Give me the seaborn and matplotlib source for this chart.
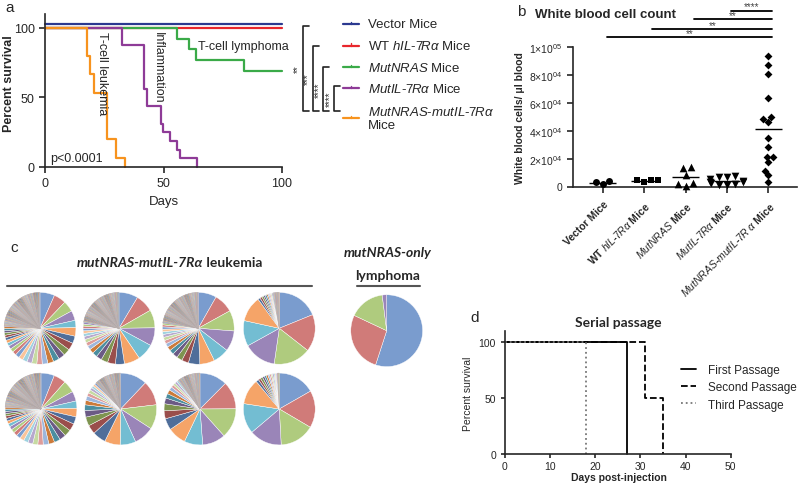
import numpy as np
import matplotlib
matplotlib.use('Agg')
import matplotlib.pyplot as plt
import matplotlib.transforms as mtransforms
import seaborn as sns

# --- panel a: Kaplan-Meier survival (days, percent) ---
vector_days = [0, 100]
vector_surv = [100, 100]
wt_days = [0, 100]
wt_surv = [100, 100]
nras_days = [0, 55.6, 60.8, 63.7, 84.1, 100]
nras_surv = [100, 92.3, 84.6, 76.9, 69.2, 69.2]
il7r_days = [0, 32.6, 41.8, 42.9, 49, 49.9, 52.7, 55.6, 57, 64]
il7r_surv = [100, 87.5, 56.25, 43.75, 31.25, 25, 18.75, 12.5, 6.25, 0]
double_days = [0, 17.9, 19, 20.7, 26, 30, 33.8]
double_surv = [100, 80, 66.7, 53.3, 20, 6.7, 0]
a_labels = ['Vector Mice',
            r'WT $\mathit{hIL}$-$\mathit{7R\alpha}$ Mice',
            r'$\mathit{MutNRAS}$ Mice',
            r'$\mathit{MutIL}$-$\mathit{7R\alpha}$ Mice',
            '$\\mathit{MutNRAS}$-$\\mathit{mutIL}$-$\\mathit{7R\\alpha}$\nMice']
a_colors = ['#2B3990', '#E8262C', '#3AAA48', '#8E3B97', '#F7931E']
a_stars = ['**', '***', '****', '****']

# --- panel b: white blood cell count per mouse ---
b_cats = ['Vector', 'WT hIL-7Ra', 'MutNRAS', 'MutIL-7Ra', 'MutNRAS-mutIL-7Ra']
b_ticklabels = ['Vector Mice',
                r'WT $\mathit{hIL}$-$\mathit{7R\alpha}$ Mice',
                r'$\mathit{MutNRAS}$ Mice',
                r'$\mathit{MutIL}$-$\mathit{7R\alpha}$ Mice',
                r'$\mathit{MutNRAS}$-$\mathit{mutIL}$-$\mathit{7R\ \alpha}$ Mice']
wbc_vector = [3600, 1600, 2900]
wbc_wt = [4700, 3100, 4500, 4900]
wbc_nras = [14300, 13600, 8300, 2100, 2300, 500]
wbc_il7r = [7600, 7000, 6500, 5200, 4200, 3500, 3000, 2400, 1800, 1200, 800]
wbc_double = [93700, 87200, 81100, 63800, 48300, 46300, 49900, 34600,
              28400, 21500, 21500, 17600, 11200, 8100, 3300]
b_stars = ['**', '**', '**', '****']   # each group vs MutNRAS-mutIL-7Ra

# --- panel c: clone fractions (%) per mouse ---
pie1 = [6, 5, 4.5, 4, 3, 3.5, 3, 3, 2.8, 2.6, 2.5, 2.4, 2.3, 2.2, 2.1, 2, 1.9, 1.8,
        1.7, 1.6, 1.5, 1.4, 1.3, 1.2, 1.1, 1, 1, 0.9, 0.9, 0.8] + [0.4] * 55
pie2 = [8.5, 8, 8, 8, 7.5, 7, 4, 3.5, 3, 2.5, 2.2, 2, 1.8, 1.6, 1.5, 1.4, 1.3, 1.2,
        1.1, 1, 0.9, 0.8] + [0.4] * 55
pie3 = [8, 8.5, 9, 9, 7, 6.5, 5, 3, 2.5, 2.2, 2, 1.8, 1.6, 1.5, 1.4, 1.3, 1.2, 1.1,
        1, 0.9, 0.8] + [0.4] * 55
pie4 = [18, 16, 16, 14, 11, 11, 1, 0.9, 0.8, 0.7, 0.7, 0.6, 0.6, 0.5, 0.5, 0.5,
        0.4, 0.4, 0.4, 0.4, 0.3, 0.3, 0.3, 0.3]
pie5 = [5.5, 5, 5, 4, 3, 3.5, 3, 3, 2.8, 2.6, 2.5, 2.4, 2.3, 2.2, 2.1, 2, 1.9, 1.8,
        1.7, 1.6, 1.5, 1.4, 1.3, 1.2, 1.1, 1, 1, 0.9, 0.9, 0.8] + [0.4] * 55
pie6 = [12, 11, 11, 9, 7, 7, 6, 4, 4, 3, 2.5, 2, 2, 1.5, 1.5, 1.2, 1, 1, 0.8] + [0.4] * 30
pie7 = [12, 12, 13, 10, 8, 8, 5, 3.5, 3, 2.5, 2, 1.8, 1.5, 1.2, 1, 1, 0.8] + [0.4] * 25
pie8 = [16, 16, 15, 14, 13, 11, 1.2, 1, 1, 0.9, 0.8, 0.8, 0.7, 0.7, 0.6, 0.6, 0.5,
        0.5, 0.5, 0.4, 0.4]
pie_lymphoma = [55, 27, 16, 2]
pie_colors = ['#7A9CCE', '#D07B79', '#AFCB7E', '#9A85B8', '#73BDD2', '#F5A468',
              '#4F6E9A', '#9A4E4C', '#7E9450', '#6B5A85', '#4B8EA0', '#CC7A3A',
              '#9DB6DC', '#DE9C9A', '#C6DAA2', '#B7A8CD', '#9FD2E0', '#F9C49A']

# --- panel d: serial passage survival ---
d_labels = ['First Passage', 'Second Passage', 'Third Passage']
first_days = [0, 27]
first_surv = [100, 0]
second_days = [0, 31, 35]
second_surv = [100, 50, 0]
third_days = [0, 18]
third_surv = [100, 0]

sns.set_style('ticks')
plt.rcParams['font.family'] = ['Liberation Sans', 'DejaVu Sans']
plt.rcParams['mathtext.fontset'] = 'custom'
plt.rcParams['mathtext.rm'] = 'Liberation Sans'
plt.rcParams['mathtext.it'] = 'Liberation Sans:italic'
plt.rcParams['mathtext.bf'] = 'Liberation Sans:bold'
plt.rcParams['axes.linewidth'] = 1.2

W, H = 800, 485
fig = plt.figure(figsize=(8, 4.85), dpi=100)


def px_axes(x0, y0, x1, y1):
    return fig.add_axes([x0 / W, 1 - y1 / H, (x1 - x0) / W, (y1 - y0) / H])


# ---------------- panel a ----------------
axa = px_axes(45, 15, 282, 168)
series = [(vector_days, vector_surv), (wt_days, wt_surv), (nras_days, nras_surv),
          (il7r_days, il7r_surv), (double_days, double_surv)]
up = mtransforms.offset_copy(axa.transData, fig=fig, x=0, y=3.5, units='dots')
for i, (d, s) in enumerate(series):
    kw = {'transform': up} if i == 0 else {}
    sns.lineplot(x=d, y=s, color=a_colors[i], drawstyle='steps-post', lw=1.6,
                 clip_on=False, ax=axa, **kw)
axa.set_xlim(0, 100)
axa.set_ylim(0, 110)
axa.set_xticks([0, 50, 100])
axa.set_yticks([0, 50, 100])
axa.tick_params(direction='out', length=4, width=1.2, labelsize=9)
axa.set_xlabel('Days', fontsize=9.5)
axa.set_ylabel('Percent survival', fontsize=9, fontweight='bold')
axa.yaxis.set_label_coords(-0.125, 0.55)
sns.despine(ax=axa)
axa.text(23.9, 67.6, 'T-cell leukemia', rotation=-90, ha='center', va='center', fontsize=9)
axa.text(47.5, 72, 'Inflammation', rotation=-90, ha='center', va='center', fontsize=9)
axa.text(64.5, 87, 'T-cell lymphoma', ha='left', va='center', fontsize=9)
axa.text(2, 6.5, 'p<0.0001', ha='left', va='center', fontsize=9)

# ---------------- panel b ----------------
axb = px_axes(572.7, 48.3, 796.7, 187.5)
wbc = [wbc_vector, wbc_wt, wbc_nras, wbc_il7r, wbc_double]
markers = ['o', 's', '^', 'v', 'D']
sizes = [5, 5, 5.5, 5.5, 4]
for cat, vals, m, sz in zip(b_cats, wbc, markers, sizes):
    sns.swarmplot(x=[cat] * len(vals), y=vals, order=b_cats, marker=m, size=sz,
                  color='black', clip_on=False, ax=axb)
for i, vals in enumerate(wbc):
    axb.hlines(np.mean(vals), i - 0.32, i + 0.32, color='black', lw=1)
axb.set_xlim(-0.725, 4.686)
axb.set_ylim(0, 100000)
axb.set_yticks([0, 20000, 40000, 60000, 80000, 100000])
axb.set_yticklabels(['0', r'$2{\times}10^{04}$', r'$4{\times}10^{04}$',
                     r'$6{\times}10^{04}$', r'$8{\times}10^{04}$', r'$1{\times}10^{05}$'])
axb.set_xticks(range(5))
axb.set_xticklabels(b_ticklabels, rotation=45, ha='right', va='top',
                    rotation_mode='anchor', fontsize=7.5, fontweight='bold')
axb.tick_params(axis='y', direction='out', length=4, width=1.2, labelsize=7.5)
axb.tick_params(axis='x', direction='out', length=4, width=1.2, pad=5)
axb.set_xlabel('')
axb.set_ylabel('White blood cells/ \u03bcl blood', fontsize=7.5, fontweight='bold', labelpad=3)
sns.despine(ax=axb)
tr = axb.get_xaxis_transform()
for left, yf, st in zip([0.1, 1.2, 2.2, 3.1], [1.072, 1.131, 1.203, 1.263], b_stars):
    axb.plot([left, 4.1], [yf, yf], color='black', lw=1.3, transform=tr, clip_on=False)
    axb.text((left + 4.1) / 2, yf - 0.005, st, ha='center', va='bottom', fontsize=7,
             color='#444444', transform=tr)

# ---------------- panel c ----------------
pies = [pie1, pie2, pie3, pie4, pie5, pie6, pie7, pie8]
centers = [(40, 329.3), (119, 329.3), (198.3, 329.3), (279.3, 329.3),
           (41, 410), (120.7, 410), (200, 410), (279.3, 410)]
for vals, (cx, cy) in zip(pies + [pie_lymphoma], centers + [(386.7, 331.7)]):
    r = 37
    axp = px_axes(cx - r, cy - r, cx + r, cy + r)
    cols = [pie_colors[k % len(pie_colors)] for k in range(len(vals))]
    wedges, _ = axp.pie(vals, colors=cols, startangle=90, counterclock=False, radius=1,
                        wedgeprops={'edgecolor': 'white', 'linewidth': 0.3})
    for w, v in zip(wedges, vals):
        if v <= 0.4:
            w.set_edgecolor('#BDB3B3')
    axp.set_xlim(-1.03, 1.03)
    axp.set_ylim(-1.03, 1.03)
    axp.set_aspect('equal')
    axp.axis('off')

# ---------------- panel d ----------------
axd = px_axes(505, 331.7, 730.7, 455)
styles = ['-', '--', ':']
dcols = ['black', 'black', '#777777']
for (d, s), ls, c, lab in zip([(first_days, first_surv), (second_days, second_surv),
                               (third_days, third_surv)], styles, dcols, d_labels):
    sns.lineplot(x=d, y=s, drawstyle='steps-post', color=c, ls=ls, lw=1.3,
                 label=lab, clip_on=False, ax=axd)
axd.set_xlim(0, 50)
axd.set_ylim(0, 110)
axd.set_xticks(range(0, 51, 10))
axd.set_yticks([0, 50, 100])
axd.tick_params(direction='out', length=3, width=1.2, labelsize=7.5)
axd.tick_params(axis='x', pad=2)
axd.set_xlabel('Days post-injection', fontsize=7.5, fontweight='bold', va='center')
axd.xaxis.set_label_coords(0.504, -0.19)
axd.set_ylabel('Percent survival', fontsize=7.5, labelpad=4)
sns.despine(ax=axd)
axd.legend(loc='upper left', bbox_to_anchor=(0.78, 0.73), frameon=False, fontsize=8.5,
           handlelength=1.3, handletextpad=1.0, labelspacing=0.45, borderpad=0,
           borderaxespad=0)

# ---------------- overlay: panel letters, legend a, brackets, titles ----------------
ov = fig.add_axes([0, 0, 1, 1])
ov.set_xlim(0, W)
ov.set_ylim(H, 0)
ov.axis('off')
ov.patch.set_alpha(0)

ov.text(5, 8, 'a', fontsize=11, ha='left', va='center')
ov.text(517, 12, 'b', fontsize=11, ha='left', va='center')
ov.text(10, 248, 'c', fontsize=11, ha='left', va='center')
ov.text(470, 318, 'd', fontsize=11, ha='left', va='center')

# legend for panel a
for yy, lab, c in zip([25, 46.7, 68.3, 89.3, 119], a_labels, a_colors):
    ov.plot([343, 359], [yy, yy], color=c, lw=1.6)
    ov.plot([351, 351], [yy, yy - 2.5], color=c, lw=1)
    ov.text(368, yy, lab, fontsize=9.5, ha='left', va='center', linespacing=1.2)

# significance brackets panel a
for bx, top, st in zip([302.7, 312.7, 323.3, 334.3], [27.3, 46.7, 68.3, 86.7], a_stars):
    ov.plot([bx + 6, bx, bx, bx + 6], [top, top, 111.7, 111.7], color='#222222', lw=1.2)
    ov.text(bx - 4.5, (top + 111.7) / 2, st, rotation=90, ha='center', va='center',
            fontsize=7, color='#333333')

ov.text(535, 15, 'White blood cell count', fontsize=9.5, fontweight='bold', ha='left',
        va='center')

t1 = ov.text(77, 263, 'mutNRAS-mutIL-7R\u03b1', fontsize=10, fontweight='bold',
             fontstyle='italic', family='Lato', ha='left', va='center')
ov.annotate(' leukemia', xy=(1, 0), xycoords=t1, va='bottom', ha='left', fontsize=10,
            fontweight='bold', family='Lato')
ov.plot([6.7, 311.7], [286.7, 286.7], color='#555555', lw=1.5)
ov.text(388, 253, 'mutNRAS-only', fontsize=10, fontweight='bold', fontstyle='italic',
        family='Lato', ha='center', va='center')
ov.text(388, 276, 'lymphoma', fontsize=10, fontweight='bold', family='Lato',
        ha='center', va='center')
ov.plot([357, 420], [286.7, 286.7], color='#555555', lw=1.5)
ov.text(618, 323, 'Serial passage', fontsize=10, fontweight='bold', family='Lato',
        ha='center', va='center')

fig.savefig('out.png', dpi=100)
